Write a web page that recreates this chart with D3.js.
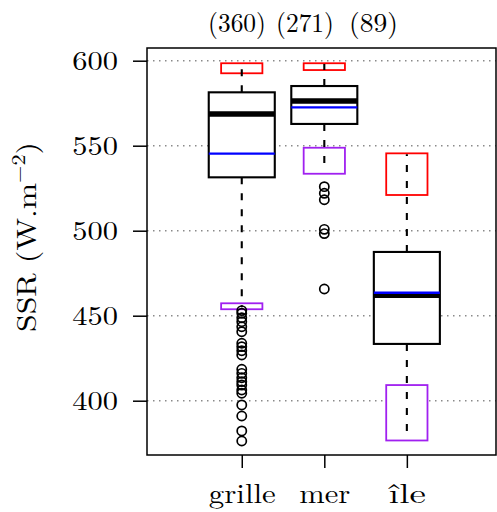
<!DOCTYPE html>
<html><head><meta charset="utf-8">
<script src="https://cdn.jsdelivr.net/npm/d3@7"></script>
<style>
body{margin:0;background:#fff}
svg{display:block}
</style>
</head><body>
<svg id="c" width="497" height="512"></svg>
<script>
// ---- data ----
const categories = ["grille", "mer", "île"];
const counts = [360, 271, 89];
const q1 = [531.4, 562.8, 433.4];
const medians = [568.6, 576.3, 462.0];
const q3 = [581.4, 585.1, 487.5];
const means = [545.3, 572.6, 463.5];
const whiskerLow = [455.0, 534.5, 376.9];
const whiskerHigh = [598.5, 598.0, 545.0];
const maxBoxLow = [592.6, 594.5, 521.0];
const maxBoxHigh = [598.5, 598.5, 545.5];
const minBoxLow = [453.8, 533.5, 376.6];
const minBoxHigh = [457.3, 548.8, 409.2];
const outliersGrille = [453.0, 451.4, 448.8, 446.5, 443.5, 440.6, 433.8, 431.8, 429.4, 426.9,
  418.5, 416.1, 413.5, 411.2, 409.2, 406.3, 404.4, 397.5, 391.0, 382.2, 376.3];
const outliersMer = [525.9, 522.0, 518.2, 500.8, 498.3, 465.7];
const outliersIle = [];
const outliers = [outliersGrille, outliersMer, outliersIle];
const yTicks = [400, 450, 500, 550, 600];
const yLabel = "SSR (W.m";
const yLabelSup = "−2";

// ---- layout ----
const L = 147, R = 496, T = 48, B = 455;
const FONT = "'Latin Modern Roman', 'CMU Serif', 'Liberation Serif', serif";
const FS = 27;
const svg = d3.select("#c");
const x = d3.scaleLinear().domain([-0.148, 4.08]).range([L, R]);
const y = d3.scaleLinear().domain([368.06, 607.47]).range([B, T]);

function fitScale(node, target) {
  const w = node.getComputedTextLength();
  return w > 0 ? target / w : 1;
}
function styleText(sel) {
  return sel.style("font-family", FONT).style("font-size", FS + "px")
    .style("font-weight", "400").style("fill", "#000");
}

// grid
svg.append("g").selectAll("line").data(yTicks).join("line")
  .attr("x1", L).attr("x2", R).attr("y1", d => y(d)).attr("y2", d => y(d))
  .attr("stroke", "#8a8a8a").attr("stroke-width", 1.4).attr("stroke-dasharray", "1.5,4.5");

const idx = d3.range(categories.length);
const bw = 0.4, ew = 0.25;

// extreme boxes (red = max, purple = min)
const gExt = svg.append("g");
gExt.selectAll("rect.mx").data(idx).join("rect").attr("class", "mx")
  .attr("x", i => x(i + 1 - ew)).attr("width", i => x(i + 1 + ew) - x(i + 1 - ew))
  .attr("y", i => y(maxBoxHigh[i])).attr("height", i => y(maxBoxLow[i]) - y(maxBoxHigh[i]))
  .attr("fill", "#fff").attr("stroke", "#ff0000").attr("stroke-width", 1.8);
gExt.selectAll("rect.mn").data(idx).join("rect").attr("class", "mn")
  .attr("x", i => x(i + 1 - ew)).attr("width", i => x(i + 1 + ew) - x(i + 1 - ew))
  .attr("y", i => y(minBoxHigh[i])).attr("height", i => y(minBoxLow[i]) - y(minBoxHigh[i]))
  .attr("fill", "#fff").attr("stroke", "#a020f0").attr("stroke-width", 1.8);

// whiskers
const gW = svg.append("g").attr("stroke", "#000").attr("stroke-width", 2.1).attr("stroke-dasharray", "7,9");
gW.selectAll("line.up").data(idx).join("line").attr("class", "up")
  .attr("x1", i => x(i + 1)).attr("x2", i => x(i + 1))
  .attr("y1", i => y(q3[i])).attr("y2", i => y(whiskerHigh[i]));
gW.selectAll("line.lo").data(idx).join("line").attr("class", "lo")
  .attr("x1", i => x(i + 1)).attr("x2", i => x(i + 1))
  .attr("y1", i => y(q1[i])).attr("y2", i => y(whiskerLow[i]));

// boxes
svg.append("g").selectAll("rect").data(idx).join("rect")
  .attr("x", i => x(i + 1 - bw)).attr("width", i => x(i + 1 + bw) - x(i + 1 - bw))
  .attr("y", i => y(q3[i])).attr("height", i => y(q1[i]) - y(q3[i]))
  .attr("fill", "#fff").attr("stroke", "#000").attr("stroke-width", 2.1);

// medians
svg.append("g").selectAll("line").data(idx).join("line")
  .attr("x1", i => x(i + 1 - bw)).attr("x2", i => x(i + 1 + bw))
  .attr("y1", i => y(medians[i])).attr("y2", i => y(medians[i]))
  .attr("stroke", "#000").attr("stroke-width", 5.5);

// outliers
const outPts = idx.flatMap(i => outliers[i].map(v => ({ i, v })));
svg.append("g").selectAll("circle").data(outPts).join("circle")
  .attr("cx", d => x(d.i + 1)).attr("cy", d => y(d.v)).attr("r", 4.6)
  .attr("fill", "none").attr("stroke", "#000").attr("stroke-width", 1.7);

// means
svg.append("g").selectAll("line").data(idx).join("line")
  .attr("x1", i => x(i + 1 - bw)).attr("x2", i => x(i + 1 + bw))
  .attr("y1", i => y(means[i])).attr("y2", i => y(means[i]))
  .attr("stroke", "#0000ff").attr("stroke-width", 2.3);

// frame
svg.append("rect").attr("x", L).attr("y", T).attr("width", R - L).attr("height", B - T)
  .attr("fill", "none").attr("stroke", "#000").attr("stroke-width", 1.5);

// y axis
const gy = svg.append("g").attr("transform", `translate(${L},0)`)
  .call(d3.axisLeft(y).tickValues(yTicks).tickSize(14).tickPadding(15).tickFormat(d3.format("d")));
gy.attr("font-family", null).attr("font-size", null);
gy.select(".domain").remove();
gy.selectAll(".tick line").attr("stroke", "#000").attr("stroke-width", 1.5);
gy.selectAll(".tick text").call(styleText)
  .attr("x", 0).attr("dy", null)
  .each(function () {
    const s = fitScale(this, 45.7);
    d3.select(this).attr("transform", `translate(-29,8.7) scale(${s},1)`);
  });

// x axis
const xLabelW = [67, 51, 37];
const gx = svg.append("g").attr("transform", `translate(0,${B})`)
  .call(d3.axisBottom(x).tickValues([1, 2, 3]).tickSize(13).tickPadding(0).tickFormat(d => categories[d - 1]));
gx.attr("font-family", null).attr("font-size", null);
gx.select(".domain").remove();
gx.selectAll(".tick line").attr("stroke", "#000").attr("stroke-width", 1.5);
gx.selectAll(".tick text").call(styleText)
  .attr("y", 0).attr("dy", null)
  .each(function (d) {
    const s = fitScale(this, xLabelW[d - 1]);
    d3.select(this).attr("transform", `translate(0,48) scale(${s},1)`);
  });

// counts on top
const countX = [237, 305, 373.5];
const countW = [58, 58, 49];
svg.append("g").selectAll("text").data(idx).join("text")
  .call(styleText).attr("text-anchor", "middle")
  .text(i => `(${counts[i]})`)
  .each(function (i) {
    const s = fitScale(this, countW[i]);
    d3.select(this).attr("transform", `translate(${countX[i]},31.5) scale(${s},1)`);
  });

// y label
const yl = svg.append("text").call(styleText).attr("text-anchor", "middle");
yl.append("tspan").text(yLabel);
yl.append("tspan").style("font-size", "19px").attr("dy", -11).text(yLabelSup);
yl.append("tspan").attr("dy", 11).text(")");
{
  const bb = yl.node().getBBox();
  const s = 190 / bb.width;
  yl.attr("transform", `translate(35.5,237) rotate(-90) scale(${s},1)`);
}
</script>
</body></html>
